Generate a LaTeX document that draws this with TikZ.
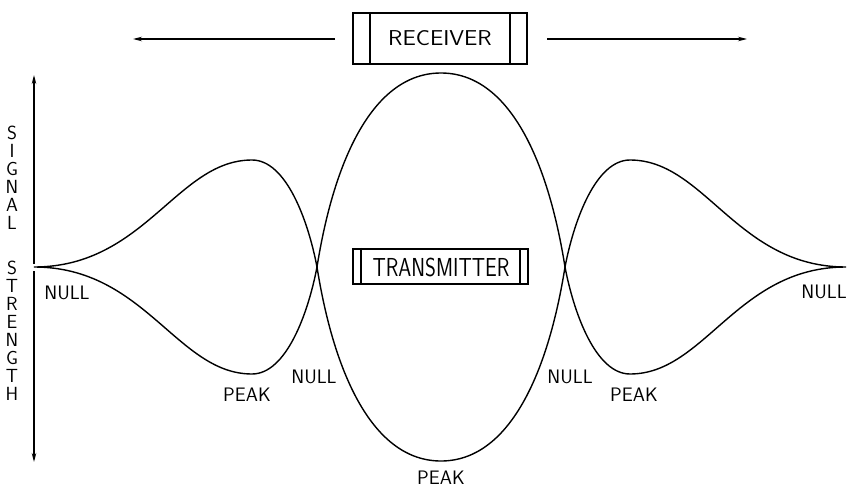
\documentclass[tikz,border=0pt]{standalone}
\usetikzlibrary{arrows.meta}
\begin{document}
\begin{tikzpicture}[x=1pt,y=-1pt,
  curve/.style={line width=1.4pt},
  boxline/.style={draw, line width=2.2pt, inner sep=0pt},
  innerline/.style={line width=1.6pt},
  lbl/.style={font=\sffamily\fontsize{19.5}{19.5}\selectfont, inner sep=0pt},
  vtext/.style={font=\sffamily\fontsize{19}{18}\selectfont, inner sep=0pt, align=center},
  arr/.style={line width=1.3pt, -{Stealth[length=9pt,width=4.5pt]}},
]
\useasboundingbox (0,0) rectangle (848,487);

% receiver
\node[boxline, minimum width=174pt, minimum height=51pt] (rcv) at (440,38.5) {};
\draw[innerline] ([xshift=18pt]rcv.north west) -- ([xshift=18pt]rcv.south west);
\draw[innerline] ([xshift=-18pt]rcv.north east) -- ([xshift=-18pt]rcv.south east);
\node[inner sep=0pt, font=\sffamily\fontsize{21.5}{21.5}\selectfont] (rcvtxt) at (440,38.5) {\scalebox{1.1}[1]{RECEIVER}};

% horizontal arrows
\coordinate (lfrom) at (335,39);
\coordinate (lto) at (133,39);
\coordinate (rfrom) at (547,39);
\coordinate (rto) at (747,39);
\draw[arr] (lfrom) -- (lto);
\draw[arr] (rfrom) -- (rto);

% transmitter
\node[boxline, minimum width=175pt, minimum height=35pt] (tx) at (440.5,266.5) {};
\draw[innerline] ([xshift=9pt]tx.north west) -- ([xshift=9pt]tx.south west);
\draw[innerline] ([xshift=-9pt]tx.north east) -- ([xshift=-9pt]tx.south east);
\node[inner sep=0pt, font=\sffamily\fontsize{26}{26}\selectfont] (txtxt) at (441,267) {\scalebox{0.8}[1]{TRANSMITTER}};

% key points
\coordinate (ltip) at (34,267);
\coordinate (lnull) at (317,267);
\coordinate (rnull) at (565,267);
\coordinate (rtip) at (846,267);
\coordinate (ltop) at (252,160);
\coordinate (lbot) at (252,374);
\coordinate (rtop) at (630,160);
\coordinate (rbot) at (630,374);
\coordinate (ctop) at (441,73);
\coordinate (cbot) at (441,461);

% left lobe
\draw[curve] (ltip) .. controls (145,267) and (177,160) .. (ltop)
  .. controls (286,160) and (308,220) .. (lnull)
  .. controls (308,314) and (286,374) .. (lbot)
  .. controls (177,374) and (145,267) .. (ltip);
% central lobe
\draw[curve] (lnull) .. controls (334,160) and (373,73) .. (ctop)
  .. controls (509,73) and (548,160) .. (rnull)
  .. controls (548,374) and (509,461) .. (cbot)
  .. controls (373,461) and (334,374) .. (lnull);
% right lobe
\draw[curve] (rnull) .. controls (574,220) and (596,160) .. (rtop)
  .. controls (705,160) and (737,267) .. (rtip)
  .. controls (737,267) and (705,374) .. (rbot)
  .. controls (596,374) and (574,314) .. (rnull);

% axis
\coordinate (axtop) at (34,75);
\coordinate (axgt) at (34,264);
\coordinate (axgb) at (34,271);
\coordinate (axbot) at (34,462);
\draw[arr] (axgt) -- (axtop);
\draw[arr] (axgb) -- (axbot);
\node[vtext, anchor=north] (sig) at (12,126) {S\\I\\G\\N\\A\\L};
\node[vtext, anchor=north] (str) at (12,261) {S\\T\\R\\E\\N\\G\\T\\H};

% labels
\node[lbl] (n1) at (67,293) {NULL};
\node[lbl] (p1) at (247,395) {PEAK};
\node[lbl] (n2) at (314,377) {NULL};
\node[lbl] (n3) at (570,377) {NULL};
\node[lbl] (p2) at (634,395) {PEAK};
\node[lbl] (p3) at (441,478) {PEAK};
\node[lbl] (n4) at (824,292) {NULL};
\end{tikzpicture}
\end{document}
